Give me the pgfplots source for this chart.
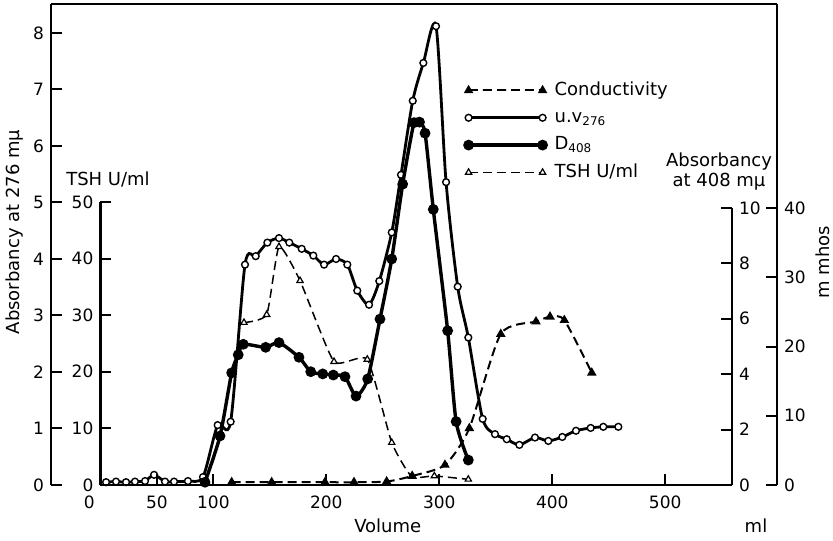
\documentclass[border=0pt]{standalone}
\usepackage{pgfplots}
\pgfplotsset{compat=1.18}
\usepackage{fontspec}
\setmainfont{DejaVu Sans}
\pgfplotsset{
  base/.style={
    scale only axis, anchor=south west, clip=false,
    tick align=inside, major tick length=5.5pt,
    tick style={line width=1pt, black},
    axis line style={line width=1.2pt},
    tick label style={font=\fontsize{8.5}{10}\selectfont},
    /pgf/number format/assume math mode=true,
    label style={font=\fontsize{9}{11}\selectfont},
  },
  uvstyle/.style={line width=1.4pt, mark=*, mark size=1.7pt, mark options={fill=white, line width=0.7pt, solid}},
  dstyle/.style={line width=1.7pt, mark=*, mark size=1.8pt, mark options={fill=black, solid}},
  tshstyle/.style={line width=0.75pt, dash pattern=on 4.5pt off 2.5pt, mark=triangle*, mark size=1.8pt, mark options={fill=white, line width=0.6pt, solid}},
  condstyle/.style={line width=1pt, dash pattern=on 4.5pt off 2.5pt, mark=triangle*, mark size=1.8pt, mark options={fill=black, solid}},
}
\begin{document}
\begin{tikzpicture}
\useasboundingbox (0,0) rectangle (416.5pt,270pt);
% Absorbancy at 276 (u.v.) -- frame left and top
\begin{axis}[base, at={(25.52pt,27.5pt)}, width=362.94pt, height=240.5pt,
  xmin=-43.7, xmax=598.9, ymin=0, ymax=8.513,
  axis x line*=top, axis y line*=left, xtick=\empty, ytick={0,1,...,8},
  ylabel={Absorbancy at 276 mμ},
  ylabel style={at={(axis description cs:-0.0496,0.526)}, anchor=center}]
\addplot[uvstyle, smooth, tension=0.45] coordinates {
(5.0,0.05) (13.8,0.06) (22.7,0.05) (30.6,0.06) (39.5,0.07) (47.5,0.18) (57.2,0.06)
(65.2,0.06) (77.5,0.07) (90.8,0.14) (103.8,1.06) (115.3,1.12) (128.0,3.90) (137.5,4.05)
(147.8,4.29) (158.1,4.37) (167.2,4.29) (178.2,4.18) (188.5,4.06) (198.0,3.90) (208.6,4.00)
(218.6,3.90) (227.4,3.44) (237.8,3.19) (246.9,3.61) (257.9,4.47) (266.1,5.49) (276.5,6.80)
(285.9,7.47) (297.1,8.12) (306.0,5.36) (316.3,3.51) (325.7,2.61) (338.4,1.17) (349.3,0.90)
(359.7,0.81) (370.9,0.71) (384.7,0.84) (396.5,0.78) (408.9,0.85) (421.0,0.96) (434.0,1.01)
(445.2,1.03) (458.5,1.03)};
\end{axis}
% TSH U/ml and volume axis
\begin{axis}[base, at={(50.2pt,27.5pt)}, width=315.78pt, height=141.5pt,
  xmin=0, xmax=559.1, ymin=0, ymax=50,
  axis x line*=bottom, axis y line*=left,
  xtick={50,100,200,300,400,500}, ytick={0,10,...,50},
  xticklabel style={yshift=-2pt},
  extra x ticks={0}, extra x tick style={major tick length=0pt, xticklabel style={xshift=-5.5pt}},
  xlabel={Volume},
  xlabel style={at={(axis description cs:0.455,-0.145)}, anchor=center}]
\addplot[tshstyle, smooth, tension=0.3] coordinates {
(127.1,28.7) (147.2,30.1) (158.1,42.1) (176.7,36.1) (206.8,21.8) (236.3,22.2)
(257.9,7.5) (275.5,1.5) (295.6,1.6) (325.7,1.0)};
\end{axis}
% Absorbancy at 408
\begin{axis}[base, at={(50.2pt,27.5pt)}, width=315.78pt, height=138.5pt,
  xmin=0, xmax=559.1, ymin=0, ymax=10,
  axis x line=none, axis y line*=right, ytick={0,2,...,10}]
\addplot[dstyle, smooth, tension=0.4] coordinates {
(92.6,0.1) (105.9,1.77) (116.2,4.05) (122.0,4.7) (126.5,5.08) (146.3,4.97) (158.1,5.14)
(175.8,4.61) (186.2,4.09) (196.8,4.01) (206.2,3.97) (216.5,3.91) (226.3,3.21) (236.6,3.83)
(247.5,5.99) (257.9,8.16) (267.6,10.86) (277.6,13.08) (282.5,13.1) (287.4,12.7) (294.7,9.95)
(307.4,5.57) (314.9,2.29) (325.7,0.90)};
\end{axis}
% Conductivity (m mhos)
\begin{axis}[base, at={(25.52pt,27.5pt)}, width=362.94pt, height=240.5pt,
  xmin=-43.7, xmax=598.9, ymin=0, ymax=69.46,
  axis x line=none, axis y line*=right, ytick={0,10,...,40},
  ylabel={m mhos}, ylabel style={at={(axis description cs:1.0634,0.4636)}, anchor=center},
  legend image code/.code={\draw[#1] plot coordinates {(0pt,0pt) (37pt,0pt)};},
  legend cell align=left,
  legend style={at={(axis description cs:0.5697,0.8403)}, anchor=north west, draw=none, fill=none,
    inner sep=0pt, row sep=4.47pt, column sep=0pt,
    nodes={inner ysep=0pt, inner xsep=4.2pt, text height=6.9pt, text depth=2.3pt, font=\fontsize{9}{11}\selectfont}}]
\addplot[condstyle, smooth, tension=0.4] coordinates {
(116.2,0.4) (151.6,0.4) (198.8,0.4) (224.5,0.4) (253.4,0.5) (276.0,1.3) (305.0,2.9)
(326.6,8.2) (354.4,21.8) (385.6,23.6) (398.0,24.3) (410.7,23.8) (435.0,16.2)};
\addlegendentry{Conductivity}
\addlegendimage{uvstyle}
\addlegendentry{u.v\textsubscript{276}}
\addlegendimage{dstyle}
\addlegendentry{D\textsubscript{408}}
\addlegendimage{tshstyle}
\addlegendentry{TSH U/ml}
\end{axis}
\node[font=\fontsize{9}{11}\selectfont] at (54pt,180pt) {TSH U/ml};
\node[font=\fontsize{9}{10}\selectfont, align=center] at (359.5pt,184pt) {Absorbancy\\at 408 mμ};
\node[font=\fontsize{9}{11}\selectfont] at (378pt,7pt) {ml};
\end{tikzpicture}
\end{document}
